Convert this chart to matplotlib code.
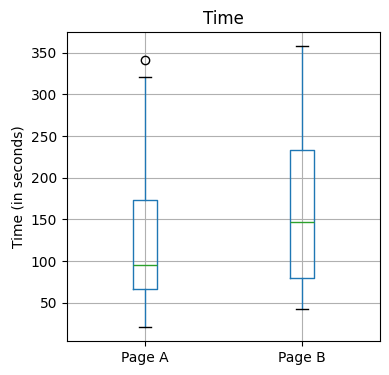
import matplotlib
matplotlib.use("Agg")
import matplotlib.pyplot as plt

pages = ["Page A", "Page B"]
whislo = [20.9, 42.4]
q1 = [66.4, 79.9]
med = [95.1, 146.5]
q3 = [172.9, 233.5]
whishi = [321.3, 357.6]
fliers = [[341.1], []]

stats = []
for i in range(len(pages)):
    stats.append({"label": pages[i], "whislo": whislo[i], "q1": q1[i], "med": med[i],
                  "q3": q3[i], "whishi": whishi[i], "fliers": fliers[i]})

fig = plt.figure(figsize=(3.89, 3.75), dpi=100)
ax = fig.add_axes([66.7 / 389, 1 - 341 / 375, (380.3 - 66.7) / 389, (341 - 32.3) / 375])

ax.bxp(stats, showfliers=True,
       boxprops=dict(color="C0"),
       whiskerprops=dict(color="C0"),
       capprops=dict(color="black"),
       medianprops=dict(color="C2"),
       flierprops=dict(marker="o", markerfacecolor="none", markeredgecolor="black"))
ax.grid(True)
ax.set_axisbelow(True)
ax.set_title("Time")
ax.set_ylabel("Time (in seconds)")
ax.set_xlabel("")

fig.savefig("out.png", dpi=100)
